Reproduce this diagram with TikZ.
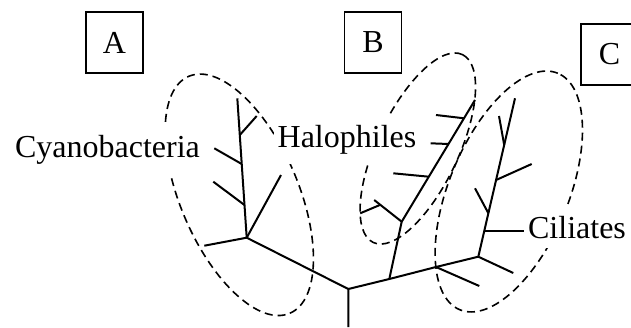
\documentclass[tikz,border=0pt]{standalone}
\usepackage{fontspec}
\setmainfont{Liberation Serif}
\usepackage{tikz}
\usetikzlibrary{calc}

\begin{document}
\begin{tikzpicture}[x=0.5pt, y=-0.5pt,
  tag/.style={draw, line width=0.8pt, minimum width=28.5pt, minimum height=30.5pt, inner sep=0pt, font=\fontsize{16}{19}\selectfont},
  lbl/.style={fill=white, inner xsep=2pt, inner ysep=5pt, anchor=base, font=\fontsize{16}{19}\selectfont},
  branch/.style={line width=1pt},
  clade/.style={line width=0.8pt, dash pattern=on 4pt off 2.5pt},
]
  \useasboundingbox (0,0) rectangle (631,327);

  % group boxes
  \node[tag] (tagA) at (114.5, 42.5) {A};
  \node[tag] (tagB) at (373, 42.5) {B};
  \node[tag] (tagC) at (609.5, 54.5) {C};

  % dashed clades
  \draw[clade, rotate around={-66.9:(239.3,194.8)}] (239.3,194.8) ellipse [x radius=64.4pt, y radius=29.5pt];
  \draw[clade, rotate around={64.6:(417.8,148.5)}] (417.8,148.5) ellipse [x radius=52pt, y radius=20.3pt];
  \draw[clade, rotate around={67.5:(508.8,191.5)}] (508.8,191.5) ellipse [x radius=64pt, y radius=29.8pt];

  % trunk
  \coordinate (base) at (348.3, 327);
  \coordinate (root) at (348.3, 289);
  \coordinate (jA) at (246.7, 237.7);
  \coordinate (jB) at (389.3, 279);
  \coordinate (jM) at (436, 267);
  \coordinate (jC) at (478.3, 256.7);
  \draw[branch] (base) -- (root) -- (jA);
  \draw[branch] (root) -- (jB) -- (jM) -- (jC);
  \coordinate (m1) at (479.3, 286);
  \coordinate (m2) at (513.3, 273);
  \draw[branch] (jM) -- (m1);
  \draw[branch] (jC) -- (m2);

  % Cyanobacteria
  \coordinate (aL) at (204.3, 245.7);
  \coordinate (aT) at (237.3, 98.3);
  \coordinate (aR) at (281, 175);
  \coordinate (a1) at (239.8, 135);
  \coordinate (a1e) at (256.7, 116);
  \coordinate (a2) at (241.7, 164);
  \coordinate (a2e) at (214.3, 148.3);
  \coordinate (a3) at (244.5, 205);
  \coordinate (a3e) at (213.3, 181.7);
  \draw[branch] (aL) -- (jA) -- (aT);
  \draw[branch] (jA) -- (aR);
  \draw[branch] (a1) -- (a1e);
  \draw[branch] (a2) -- (a2e);
  \draw[branch] (a3) -- (a3e);

  % Halophiles
  \coordinate (hJ) at (401.7, 221.7);
  \coordinate (hT) at (475, 100);
  \coordinate (hL) at (374.2, 200);
  \coordinate (hS) at (380.3, 204.8);
  \coordinate (hSe) at (360.2, 213.3);
  \coordinate (h1) at (428.8, 176.7);
  \coordinate (h1e) at (393.3, 173.3);
  \coordinate (h2) at (448.5, 144);
  \coordinate (h2e) at (430.7, 143.3);
  \coordinate (h3) at (464.1, 118.3);
  \coordinate (h3e) at (436, 115);
  \draw[branch] (jB) -- (hJ) -- (hT);
  \draw[branch] (hJ) -- (hL);
  \draw[branch] (hS) -- (hSe);
  \draw[branch] (h1) -- (h1e);
  \draw[branch] (h2) -- (h2e);
  \draw[branch] (h3) -- (h3e);

  % Ciliates
  \coordinate (cT) at (515, 98.3);
  \coordinate (cL) at (484.1, 231.2);
  \coordinate (c1) at (488.4, 213.3);
  \coordinate (c1e) at (475, 188.3);
  \coordinate (c2) at (496.1, 180);
  \coordinate (c2e) at (531.7, 164);
  \coordinate (c3) at (504.2, 145);
  \coordinate (c3e) at (499, 116);
  \draw[branch] (jC) -- (cT);
  \draw[branch] (c1) -- (c1e);
  \draw[branch] (c2) -- (c2e);
  \draw[branch] (c3) -- (c3e);

  % labels
  \node[lbl] (cyano) at (107.5, 157) {Cyanobacteria};
  \node[lbl] (halo) at (347, 147) {Halophiles};
  \node[lbl] (cili) at (577, 238) {Ciliates};
  \draw[branch] (cL) -- (cili.west |- cL);
\end{tikzpicture}
\end{document}
